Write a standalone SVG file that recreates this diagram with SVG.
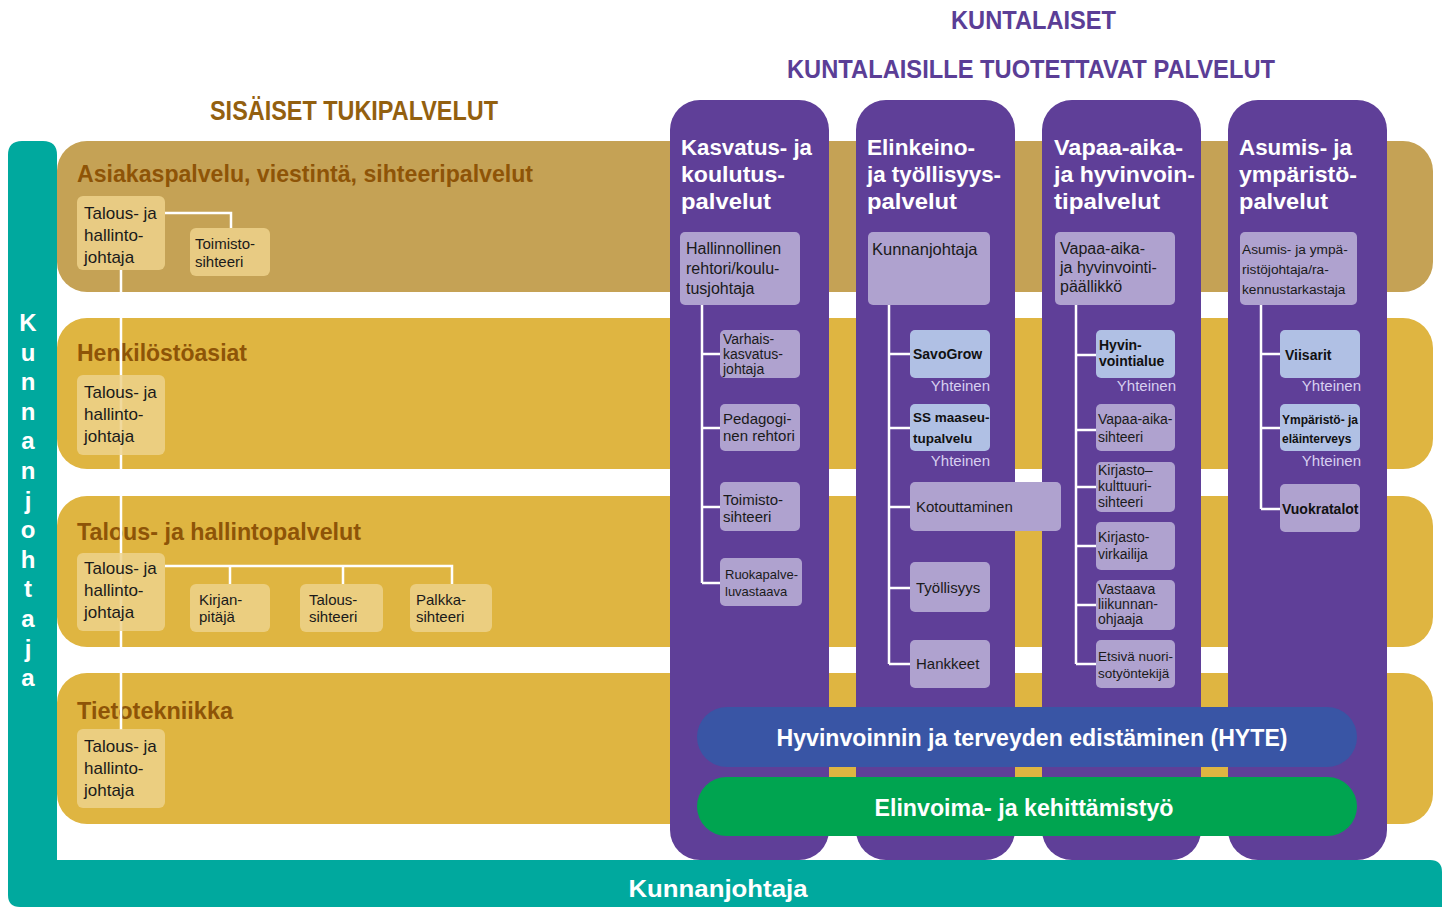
<svg xmlns="http://www.w3.org/2000/svg" width="1449" height="907" viewBox="0 0 1449 907">
<style>
text{font-family:"Liberation Sans",Arial,sans-serif}
.band1{fill:#C5A255}
.band{fill:#DFB541}
.col{fill:#5F3F98}
.tbox{fill:#EDD28C;opacity:0.85}
.pbox{fill:#AFA2CF}
.bbox{fill:#B0C0E4}
.conn{stroke:#fff;stroke-width:2.5;fill:none}
.bt{font-weight:bold;font-size:24px;fill:#8E5407}
.ch{font-weight:bold;font-size:22px;fill:#fff}
.tx{fill:#1a1a1a}
.bx{fill:#111;font-weight:bold}
.yh{fill:#D8D0F0;font-size:15px;text-anchor:end}
.vl{font-weight:bold;font-size:24px;fill:#fff;text-anchor:middle}
</style>
<rect width="1449" height="907" fill="#fff"/>
<g id="kunnanjohtaja-frame">
<path d="M8,155 Q8,141 22,141 L43,141 Q57,141 57,155 L57,860 L1430,860 Q1442,860 1442,872 L1442,907 L20,907 Q8,907 8,895 Z" fill="#00A99E"/>
<text class="vl" x="28" y="331">K</text>
<text class="vl" x="28" y="360.6">u</text>
<text class="vl" x="28" y="390.2">n</text>
<text class="vl" x="28" y="419.8">n</text>
<text class="vl" x="28" y="449.4">a</text>
<text class="vl" x="28" y="479">n</text>
<text class="vl" x="28" y="508.6">j</text>
<text class="vl" x="28" y="538.2">o</text>
<text class="vl" x="28" y="567.8">h</text>
<text class="vl" x="28" y="597.4">t</text>
<text class="vl" x="28" y="627">a</text>
<text class="vl" x="28" y="656.6">j</text>
<text class="vl" x="28" y="686.2">a</text>
<text x="718" y="897" text-anchor="middle" font-weight="bold" font-size="24" fill="#fff" textLength="179" lengthAdjust="spacingAndGlyphs">Kunnanjohtaja</text>
</g>
<g id="titles">
<text x="210" y="120" font-weight="bold" font-size="27" fill="#93600F" textLength="288" lengthAdjust="spacingAndGlyphs">SISÄISET TUKIPALVELUT</text>
<text x="951" y="29" font-weight="bold" font-size="26" fill="#5B3E96" textLength="165" lengthAdjust="spacingAndGlyphs">KUNTALAISET</text>
<text x="787" y="78" font-weight="bold" font-size="26" fill="#5B3E96" textLength="488" lengthAdjust="spacingAndGlyphs">KUNTALAISILLE TUOTETTAVAT PALVELUT</text>
</g>
<g id="bands">
<rect class="band1" x="57" y="141" width="1376" height="151" rx="30"/>
<rect class="band" x="57" y="318" width="1376" height="151" rx="30"/>
<rect class="band" x="57" y="496" width="1376" height="151" rx="30"/>
<rect class="band" x="57" y="673" width="1376" height="151" rx="30"/>
<text class="bt" x="77" y="182" textLength="456" lengthAdjust="spacingAndGlyphs">Asiakaspalvelu, viestintä, sihteeripalvelut</text>
<text class="bt" x="77" y="361" textLength="170" lengthAdjust="spacingAndGlyphs">Henkilöstöasiat</text>
<text class="bt" x="77" y="540" textLength="284" lengthAdjust="spacingAndGlyphs">Talous- ja hallintopalvelut</text>
<text class="bt" x="77" y="719" textLength="156" lengthAdjust="spacingAndGlyphs">Tietotekniikka</text>
</g>
<g id="columns">
<rect class="col" x="670" y="100" width="159" height="760" rx="30"/>
<rect class="col" x="856" y="100" width="159" height="760" rx="30"/>
<rect class="col" x="1042" y="100" width="159" height="760" rx="30"/>
<rect class="col" x="1228" y="100" width="159" height="760" rx="30"/>
<text class="ch" x="681" y="155" textLength="131" lengthAdjust="spacingAndGlyphs">Kasvatus- ja</text>
<text class="ch" x="681" y="182" textLength="104" lengthAdjust="spacingAndGlyphs">koulutus-</text>
<text class="ch" x="681" y="209" textLength="90" lengthAdjust="spacingAndGlyphs">palvelut</text>
<text class="ch" x="867" y="155" textLength="108" lengthAdjust="spacingAndGlyphs">Elinkeino-</text>
<text class="ch" x="867" y="182" textLength="134" lengthAdjust="spacingAndGlyphs">ja työllisyys-</text>
<text class="ch" x="867" y="209" textLength="90" lengthAdjust="spacingAndGlyphs">palvelut</text>
<text class="ch" x="1054" y="155" textLength="129" lengthAdjust="spacingAndGlyphs">Vapaa-aika-</text>
<text class="ch" x="1054" y="182" textLength="141" lengthAdjust="spacingAndGlyphs">ja hyvinvoin-</text>
<text class="ch" x="1054" y="209" textLength="106" lengthAdjust="spacingAndGlyphs">tipalvelut</text>
<text class="ch" x="1239" y="155" textLength="113" lengthAdjust="spacingAndGlyphs">Asumis- ja</text>
<text class="ch" x="1239" y="182" textLength="118" lengthAdjust="spacingAndGlyphs">ympäristö-</text>
<text class="ch" x="1239" y="209" textLength="89" lengthAdjust="spacingAndGlyphs">palvelut</text>
</g>
<g id="cross-bands">
<g id="hyte">
<rect x="697" y="707" width="660" height="60" rx="30" fill="#3955A5"/>
<text x="1032" y="746" text-anchor="middle" font-weight="bold" font-size="24" fill="#fff" textLength="511" lengthAdjust="spacingAndGlyphs">Hyvinvoinnin ja terveyden edistäminen (HYTE)</text>
</g>
<g id="elinvoima">
<rect x="697" y="777" width="660" height="59" rx="29.5" fill="#00A450"/>
<text x="1024" y="816" text-anchor="middle" font-weight="bold" font-size="24" fill="#fff" textLength="299" lengthAdjust="spacingAndGlyphs">Elinvoima- ja kehittämistyö</text>
</g>
</g>
<g id="connectors">
<path class="conn" d="M121,270 V730"/>
<path class="conn" d="M165,213 H231 V228"/>
<path class="conn" d="M165,566 H452 V584 M230,566 V584 M343,566 V584"/>
<path class="conn" d="M702,305 V583 M702,354 H720 M702,428 H720 M702,507 H720 M702,583 H720"/>
<path class="conn" d="M889,305 V664 M889,354 H910 M889,428 H910 M889,507 H910 M889,588 H910 M889,664 H910"/>
<path class="conn" d="M1076,305 V664 M1076,355 H1096 M1076,430 H1096 M1076,487 H1096 M1076,546 H1096 M1076,605 H1096 M1076,664 H1096"/>
<path class="conn" d="M1261,305 V509 M1261,354 H1280 M1261,428 H1280 M1261,509 H1280"/>
</g>
<g id="left-nodes" font-size="17">
<g id="thj1"><rect class="tbox" x="77" y="196" width="88" height="74" rx="6"/>
<text class="tx" x="84" y="219">Talous- ja</text><text class="tx" x="84" y="241">hallinto-</text><text class="tx" x="84" y="263">johtaja</text></g>
<g id="toimisto1"><rect class="tbox" x="190" y="228" width="80" height="48" rx="6"/>
<text class="tx" x="195" y="249" font-size="15">Toimisto-</text><text class="tx" x="195" y="267" font-size="15">sihteeri</text></g>
<g id="thj2"><rect class="tbox" x="77" y="375" width="88" height="80" rx="6"/>
<text class="tx" x="84" y="398">Talous- ja</text><text class="tx" x="84" y="420">hallinto-</text><text class="tx" x="84" y="442">johtaja</text></g>
<g id="thj3"><rect class="tbox" x="77" y="553" width="88" height="78" rx="6"/>
<text class="tx" x="84" y="574">Talous- ja</text><text class="tx" x="84" y="596">hallinto-</text><text class="tx" x="84" y="618">johtaja</text></g>
<g id="kirjanpitaja"><rect class="tbox" x="190" y="584" width="80" height="48" rx="6"/>
<text class="tx" x="199" y="605" font-size="15">Kirjan-</text><text class="tx" x="199" y="622" font-size="15">pitäjä</text></g>
<g id="taloussihteeri"><rect class="tbox" x="300" y="584" width="83" height="48" rx="6"/>
<text class="tx" x="309" y="605" font-size="15">Talous-</text><text class="tx" x="309" y="622" font-size="15">sihteeri</text></g>
<g id="palkkasihteeri"><rect class="tbox" x="410" y="584" width="82" height="48" rx="6"/>
<text class="tx" x="416" y="605" font-size="15">Palkka-</text><text class="tx" x="416" y="622" font-size="15">sihteeri</text></g>
<g id="thj4"><rect class="tbox" x="77" y="729" width="88" height="79" rx="6"/>
<text class="tx" x="84" y="752">Talous- ja</text><text class="tx" x="84" y="774">hallinto-</text><text class="tx" x="84" y="796">johtaja</text></g>
</g>
<g id="col1-nodes">
<g id="rehtori"><rect class="pbox" x="680" y="232" width="120" height="73" rx="5"/>
<text class="tx" x="686" y="254" font-size="16">Hallinnollinen</text><text class="tx" x="686" y="274" font-size="16">rehtori/koulu-</text><text class="tx" x="686" y="294" font-size="16">tusjohtaja</text></g>
<g id="varhais"><rect class="pbox" x="720" y="330" width="80" height="48" rx="5"/>
<text class="tx" x="723" y="344" font-size="14">Varhais-</text><text class="tx" x="723" y="359" font-size="14">kasvatus-</text><text class="tx" x="723" y="374" font-size="14">johtaja</text></g>
<g id="pedagogi"><rect class="pbox" x="720" y="404" width="80" height="47" rx="5"/>
<text class="tx" x="723" y="424" font-size="15">Pedagogi-</text><text class="tx" x="723" y="441" font-size="15">nen rehtori</text></g>
<g id="toimisto2"><rect class="pbox" x="720" y="482" width="80" height="49" rx="5"/>
<text class="tx" x="723" y="505" font-size="15">Toimisto-</text><text class="tx" x="723" y="522" font-size="15">sihteeri</text></g>
<g id="ruoka"><rect class="pbox" x="720" y="558" width="82" height="48" rx="5"/>
<text class="tx" x="725" y="579" font-size="13">Ruokapalve-</text><text class="tx" x="725" y="596" font-size="13">luvastaava</text></g>
</g>
<g id="col2-nodes">
<g id="kj2"><rect class="pbox" x="868" y="232" width="122" height="73" rx="5"/>
<text class="tx" x="872" y="255" font-size="16.5">Kunnanjohtaja</text></g>
<g id="savogrow"><rect class="bbox" x="910" y="330" width="80" height="48" rx="5"/>
<text class="bx" x="913" y="359" font-size="14">SavoGrow</text>
<text class="yh" x="990" y="391">Yhteinen</text></g>
<g id="ss"><rect class="bbox" x="910" y="404" width="80" height="47" rx="5"/>
<text class="bx" x="913" y="422" font-size="13.5">SS maaseu-</text><text class="bx" x="913" y="443" font-size="13.5">tupalvelu</text>
<text class="yh" x="990" y="466">Yhteinen</text></g>
<g id="kotouttaminen"><rect class="pbox" x="910" y="482" width="151" height="49" rx="5"/>
<text class="tx" x="916" y="512" font-size="15">Kotouttaminen</text></g>
<g id="tyollisyys"><rect class="pbox" x="910" y="562" width="80" height="50" rx="5"/>
<text class="tx" x="916" y="593" font-size="15">Työllisyys</text></g>
<g id="hankkeet"><rect class="pbox" x="910" y="640" width="80" height="48" rx="5"/>
<text class="tx" x="916" y="669" font-size="15">Hankkeet</text></g>
</g>
<g id="col3-nodes">
<g id="vpaal"><rect class="pbox" x="1055" y="232" width="120" height="73" rx="5"/>
<text class="tx" x="1060" y="254" font-size="16">Vapaa-aika-</text><text class="tx" x="1060" y="273" font-size="16">ja hyvinvointi-</text><text class="tx" x="1060" y="292" font-size="16">päällikkö</text></g>
<g id="hyvinvointialue"><rect class="bbox" x="1096" y="330" width="79" height="48" rx="5"/>
<text class="bx" x="1099" y="350" font-size="14">Hyvin-</text><text class="bx" x="1099" y="366" font-size="14">vointialue</text>
<text class="yh" x="1176" y="391">Yhteinen</text></g>
<g id="vsiht"><rect class="pbox" x="1096" y="404" width="79" height="47" rx="5"/>
<text class="tx" x="1098" y="424" font-size="14">Vapaa-aika-</text><text class="tx" x="1098" y="442" font-size="14">sihteeri</text></g>
<g id="kksiht"><rect class="pbox" x="1096" y="462" width="79" height="50" rx="5"/>
<text class="tx" x="1098" y="475" font-size="14">Kirjasto–</text><text class="tx" x="1098" y="491" font-size="14">kulttuuri-</text><text class="tx" x="1098" y="507" font-size="14">sihteeri</text></g>
<g id="kvirk"><rect class="pbox" x="1096" y="522" width="79" height="48" rx="5"/>
<text class="tx" x="1098" y="542" font-size="14">Kirjasto-</text><text class="tx" x="1098" y="559" font-size="14">virkailija</text></g>
<g id="liikunta"><rect class="pbox" x="1096" y="580" width="79" height="50" rx="5"/>
<text class="tx" x="1098" y="594" font-size="14">Vastaava</text><text class="tx" x="1098" y="609" font-size="14">liikunnan-</text><text class="tx" x="1098" y="624" font-size="14">ohjaaja</text></g>
<g id="etsiva"><rect class="pbox" x="1096" y="640" width="79" height="48" rx="5"/>
<text class="tx" x="1098" y="661" font-size="13.5">Etsivä nuori-</text><text class="tx" x="1098" y="678" font-size="13.5">sotyöntekijä</text></g>
</g>
<g id="col4-nodes">
<g id="ayj"><rect class="pbox" x="1240" y="232" width="117" height="73" rx="5"/>
<text class="tx" x="1242" y="254" font-size="13.7">Asumis- ja ympä-</text><text class="tx" x="1242" y="274" font-size="13.7">ristöjohtaja/ra-</text><text class="tx" x="1242" y="294" font-size="13.7">kennustarkastaja</text></g>
<g id="viisarit"><rect class="bbox" x="1280" y="330" width="80" height="48" rx="5"/>
<text class="bx" x="1285" y="360" font-size="14">Viisarit</text>
<text class="yh" x="1361" y="391">Yhteinen</text></g>
<g id="ymparisto"><rect class="bbox" x="1280" y="404" width="80" height="47" rx="5"/>
<text class="bx" x="1282" y="424" font-size="12">Ympäristö- ja</text><text class="bx" x="1282" y="443" font-size="12">eläinterveys</text>
<text class="yh" x="1361" y="466">Yhteinen</text></g>
<g id="vuokratalot"><rect class="pbox" x="1280" y="484" width="80" height="48" rx="5"/>
<text class="bx" x="1282" y="514" font-size="14">Vuokratalot</text></g>
</g>
</svg>
